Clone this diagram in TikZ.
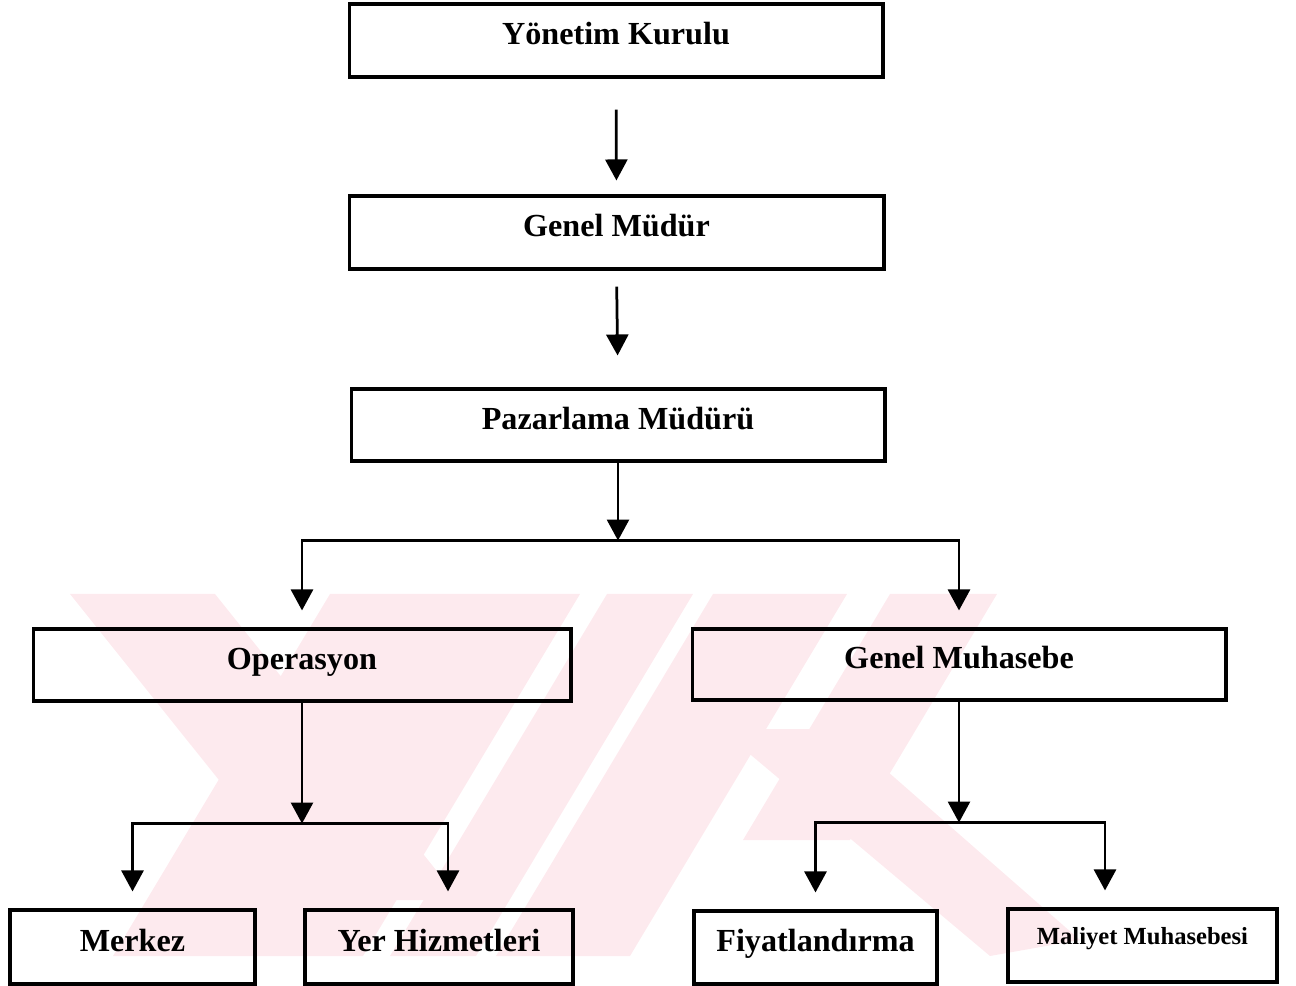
\documentclass[tikz,border=0pt]{standalone}
\usepackage{fontspec}
\setmainfont{Liberation Serif}
\usetikzlibrary{arrows.meta, positioning, calc}
\definecolor{wmark}{RGB}{253,234,238}

\begin{document}
\begin{tikzpicture}[x=0.02cm, y=-0.02cm,
  unit/.style={draw, line width=0.062cm, minimum height=1.46cm,
               text height=0.75em, text depth=0.25em,
               font=\fontsize{18.3}{22}\selectfont\bfseries},
  link/.style={line width=0.055cm, -{Triangle[length=0.42cm, width=0.44cm]}}]
  \useasboundingbox (0,0) rectangle (1296,986);

  % faint watermark behind the chart
  \begin{scope}
    \clip (60,594) rectangle (1085,956);
    \fill[wmark] (70,594) -- (215,594) -- (460,900) -- (315,900) -- cycle;
    \fill[wmark] (330,594) -- (580,594) -- (363,956) -- (113,956) -- cycle;
    \fill[wmark] (607,594) -- (693,594) -- (476,956) -- (390,956) -- cycle;
    \fill[wmark] (713,594) -- (847,594) -- (630,956) -- (496,956) -- cycle;
    \fill[wmark] (890,594) -- (997,594) -- (850,840) -- (743,840) -- cycle;
    \fill[wmark] (720,729) -- (839,729) -- (1080,940) -- (990,956) -- cycle;
  \end{scope}

  \node[unit, minimum width=10.68cm] (yk) at (616,40.5) {Yönetim Kurulu};
  \node[unit, minimum width=10.7cm] (gm) at (616.5,232.5) {Genel Müdür};
  \node[unit, minimum width=10.68cm, minimum height=1.44cm] (pm) at (618,425) {Pazarlama Müdürü};
  \node[unit, minimum width=10.76cm, minimum height=1.44cm] (op) at (302,665) {Operasyon};
  \node[unit, minimum width=10.68cm, minimum height=1.42cm] (gmh) at (959,664.5) {Genel Muhasebe};
  \node[unit, minimum width=4.9cm, minimum height=1.48cm] (mk) at (132.5,947) {Merkez};
  \node[unit, minimum width=5.36cm, minimum height=1.48cm] (yh) at (439,947) {Yer Hizmetleri};
  \node[unit, minimum width=4.86cm] (fy) at (815.5,947.5) {Fiyatlandırma};
  \node[unit, minimum width=5.38cm, text depth=0.9em,
        font=\fontsize{14}{16}\selectfont\bfseries] (mm) at (1142.5,945.5) {Maliyet Muhasebesi};

  \coordinate (pmj) at ($(pm.south)+(0,78)$);
  \coordinate (opj) at ($(op.south)+(0,121)$);
  \coordinate (gmhj) at ($(gmh.south)+(0,121)$);

  \draw[link, shorten <=0.62cm, shorten >=0.28cm] (yk.south) -- (gm.north);
  \draw[link, shorten <=0.32cm, shorten >=0.64cm] (gm.south) -- (pm.north);
  \draw[link] (pm.south) -- (pmj);
  \draw[link, shorten >=0.34cm] (pmj) -| (op.north);
  \draw[link, shorten >=0.34cm] (pmj) -| (gmh.north);
  \draw[link] (op.south) -- (opj);
  \draw[link, shorten >=0.34cm] (opj) -| (mk.north);
  \draw[link, shorten >=0.34cm] (opj) -| ([xshift=0.18cm]yh.north);
  \draw[link] (gmh.south) -- (gmhj);
  \draw[link, shorten >=0.34cm] (gmhj) -| (fy.north);
  \draw[link, shorten >=0.34cm] (gmhj) -| ([xshift=-0.75cm]mm.north);
\end{tikzpicture}
\end{document}
